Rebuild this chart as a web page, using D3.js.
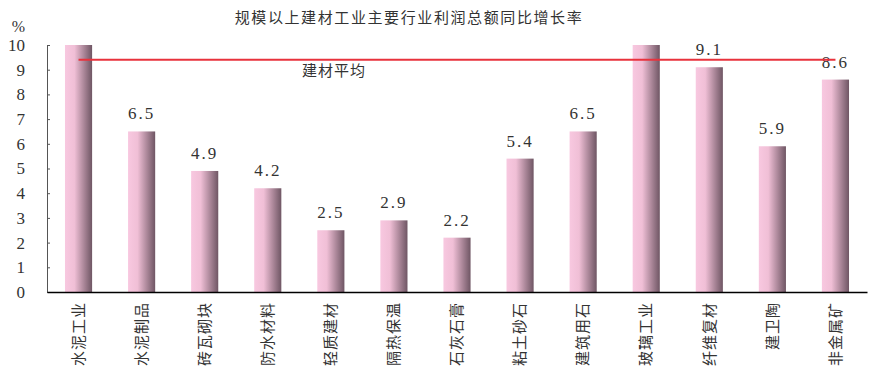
<!DOCTYPE html>
<html>
<head>
<meta charset="utf-8">
<script src="https://cdn.jsdelivr.net/npm/d3@7"></script>
<style>
  body { margin: 0; background: #fff; }
  svg { display: block; }
</style>
</head>
<body>
<script>
// data
var categories = ["水泥工业", "水泥制品", "砖瓦砌块", "防水材料", "轻质建材", "隔热保温",
  "石灰石膏", "粘土砂石", "建筑用石", "玻璃工业", "纤维复材", "建卫陶", "非金属矿"];
// 水泥工业 and 玻璃工业 run past the top of the axis (clipped at 10, no label)
var growth = [11.5, 6.5, 4.9, 4.2, 2.5, 2.9, 2.2, 5.4, 6.5, 12.0, 9.1, 5.9, 8.6];
var industryAverage = 9.4;
var yTicks = [0, 1, 2, 3, 4, 5, 6, 7, 8, 9, 10];

var width = 872, height = 379;
var plotLeft = 47, plotRight = 867, plotTop = 45, plotBottom = 292;

var rows = categories.map(function(c, i) { return { name: c, value: growth[i] }; });

var svg = d3.select("body").append("svg")
    .attr("width", width)
    .attr("height", height);

var grad = svg.append("defs").append("linearGradient")
    .attr("id", "barGrad")
    .attr("x1", "0%").attr("x2", "100%")
    .attr("y1", "0%").attr("y2", "0%");
grad.append("stop").attr("offset", "0%").attr("stop-color", "#f8c8e0");
grad.append("stop").attr("offset", "35%").attr("stop-color", "#f0bfd6");
grad.append("stop").attr("offset", "100%").attr("stop-color", "#6f5664");

var x = d3.scaleBand()
    .domain(categories)
    .range([plotLeft, plotRight])
    .paddingInner(0.57)
    .paddingOuter(0.285);

var y = d3.scaleLinear()
    .domain([0, 10])
    .range([plotBottom, plotTop])
    .clamp(true);

var serif = "'Liberation Serif', 'DejaVu Serif', serif";
var cjk = "'Noto Sans CJK SC', sans-serif";

// title
svg.append("text")
    .attr("x", 409)
    .attr("y", 23)
    .attr("text-anchor", "middle")
    .style("font-family", cjk)
    .style("font-size", "15px")
    .style("letter-spacing", "1.6px")
    .style("fill", "#333")
    .text("规模以上建材工业主要行业利润总额同比增长率");

// bars
svg.selectAll(".bar")
    .data(rows)
    .enter().append("rect")
    .attr("class", "bar")
    .attr("x", function(d) { return x(d.name); })
    .attr("width", x.bandwidth())
    .attr("y", function(d) { return y(d.value); })
    .attr("height", function(d) { return plotBottom - y(d.value); })
    .attr("fill", "url(#barGrad)");

// value labels (only for bars inside the axis)
svg.selectAll(".val")
    .data(rows.filter(function(d) { return d.value <= 10; }))
    .enter().append("text")
    .attr("class", "val")
    .attr("x", function(d) { return x(d.name) + x.bandwidth() / 2; })
    .attr("y", function(d) { return y(d.value) - 12; })
    .attr("text-anchor", "middle")
    .attr("font-family", serif)
    .attr("font-size", 17)
    .style("letter-spacing", "2px")
    .style("fill", "#333")
    .text(function(d) { return d.value.toFixed(1); });

// average line
var firstC = x(categories[0]) + x.bandwidth() / 2;
var lastC = x(categories[categories.length - 1]) + x.bandwidth() / 2;
svg.append("line")
    .attr("x1", firstC)
    .attr("x2", lastC)
    .attr("y1", y(industryAverage))
    .attr("y2", y(industryAverage))
    .attr("stroke", "#e8323c")
    .attr("stroke-width", 2);

svg.append("text")
    .attr("x", 302)
    .attr("y", 76)
    .style("font-family", cjk)
    .style("font-size", "15px")
    .style("letter-spacing", "1px")
    .style("fill", "#333")
    .text("建材平均");

// y axis
var yAxis = d3.axisRight(y)
    .tickValues(yTicks)
    .tickSize(3)
    .tickSizeOuter(3)
    .tickFormat("");
var yg = svg.append("g")
    .attr("transform", "translate(" + plotLeft + ",0)")
    .call(yAxis);
yg.selectAll("path, line").attr("stroke", "#555");

svg.selectAll(".ytick")
    .data(yTicks)
    .enter().append("text")
    .attr("class", "ytick")
    .attr("x", 25)
    .attr("y", function(d) { return y(d); })
    .attr("dy", "0.35em")
    .attr("text-anchor", "end")
    .attr("font-family", serif)
    .attr("font-size", 17)
    .style("fill", "#333")
    .text(function(d) { return d; });

svg.append("text")
    .attr("x", 25)
    .attr("y", 32)
    .attr("text-anchor", "end")
    .attr("font-family", serif)
    .attr("font-size", 16)
    .style("fill", "#333")
    .text("%");

// x axis
var xAxis = d3.axisBottom(x).tickSize(0).tickFormat("");
var xg = svg.append("g")
    .attr("transform", "translate(0," + plotBottom + ")")
    .call(xAxis);
xg.select("path").attr("stroke", "#000").attr("stroke-width", 1.5);

svg.selectAll(".xlab")
    .data(categories)
    .enter().append("text")
    .attr("class", "xlab")
    .attr("transform", function(d) {
      return "translate(" + (x(d) + x.bandwidth() / 2) + ",302) rotate(-90)";
    })
    .attr("dy", "0.35em")
    .attr("text-anchor", "end")
    .style("font-family", cjk)
    .style("font-size", "15px")
    .style("letter-spacing", "1px")
    .style("fill", "#333")
    .text(function(d) { return d; });
</script>
</body>
</html>
